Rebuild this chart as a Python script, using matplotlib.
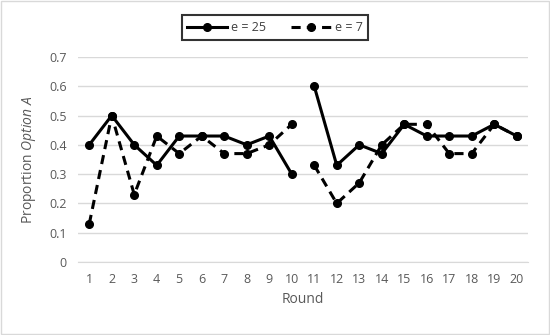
import numpy as np
import matplotlib.pyplot as plt
from matplotlib.patches import Rectangle

rounds = list(range(1, 21))
e25 = [0.40, 0.50, 0.40, 0.33, 0.43, 0.43, 0.43, 0.40, 0.43, 0.30,
       0.60, 0.33, 0.40, 0.37, 0.47, 0.43, 0.43, 0.43, 0.47, 0.43]
e7 = [0.13, 0.50, 0.23, 0.43, 0.37, 0.43, 0.37, 0.37, 0.40, 0.47,
      0.33, 0.20, 0.27, 0.40, 0.47, 0.47, 0.37, 0.37, 0.47, 0.43]
yticks = [0, 0.1, 0.2, 0.3, 0.4, 0.5, 0.6, 0.7]

plt.rcParams['font.family'] = ['Open Sans', 'DejaVu Sans']
plt.rcParams['mathtext.fontset'] = 'custom'
plt.rcParams['mathtext.it'] = 'Open Sans:italic'
plt.rcParams['mathtext.rm'] = 'Open Sans'

fig = plt.figure(figsize=(5.5, 3.35), dpi=100)
ax = fig.add_axes([78 / 550, 0.218, 450 / 550, 0.612])

# gap between round 10 and 11
segments = [slice(0, 10), slice(10, 20)]
for i, s in enumerate(segments):
    ax.plot(rounds[s], e25[s], color='black', lw=2.2, marker='o', ms=5.5,
            label='e = 25' if i == 0 else None, zorder=3)
    ax.plot(rounds[s], e7[s], color='black', lw=2.2, ls=(0, (3, 2)), marker='o', ms=5.5,
            label='e = 7' if i == 0 else None, zorder=3)

ax.set_xlim(0.5, 20.5)
ax.set_ylim(0, 0.7)
ax.set_xticks(rounds)
ax.set_yticks(yticks)
ax.set_yticklabels([f'{v:g}' for v in yticks])
ax.grid(axis='y', color='#d9d9d9', lw=1)
ax.set_axisbelow(True)
for sp in ['top', 'right', 'left']:
    ax.spines[sp].set_visible(False)
ax.spines['bottom'].set_color('#d9d9d9')
ax.tick_params(length=0, colors='#595959', labelsize=9, pad=8)
ax.set_xlabel('Round', color='#595959', fontsize=10, labelpad=4)
ax.set_ylabel(r'Proportion $\it{Option\ A}$', color='#595959', fontsize=10, labelpad=8)

leg = ax.legend(loc='center', bbox_to_anchor=(0.5, 0.918), bbox_transform=fig.transFigure,
                ncol=2, frameon=True, fancybox=False, fontsize=9, handlelength=3.2,
                columnspacing=2.0, borderpad=0.45, handletextpad=0.3)
leg.get_frame().set_edgecolor('black')
leg.get_frame().set_linewidth(1.5)
for t in leg.get_texts():
    t.set_color('#404040')

fig.patches.append(Rectangle((0.002, 0.003), 0.996, 0.994, transform=fig.transFigure,
                             fill=False, edgecolor='#d9d9d9', lw=1))

fig.savefig('out.png', dpi=100)
